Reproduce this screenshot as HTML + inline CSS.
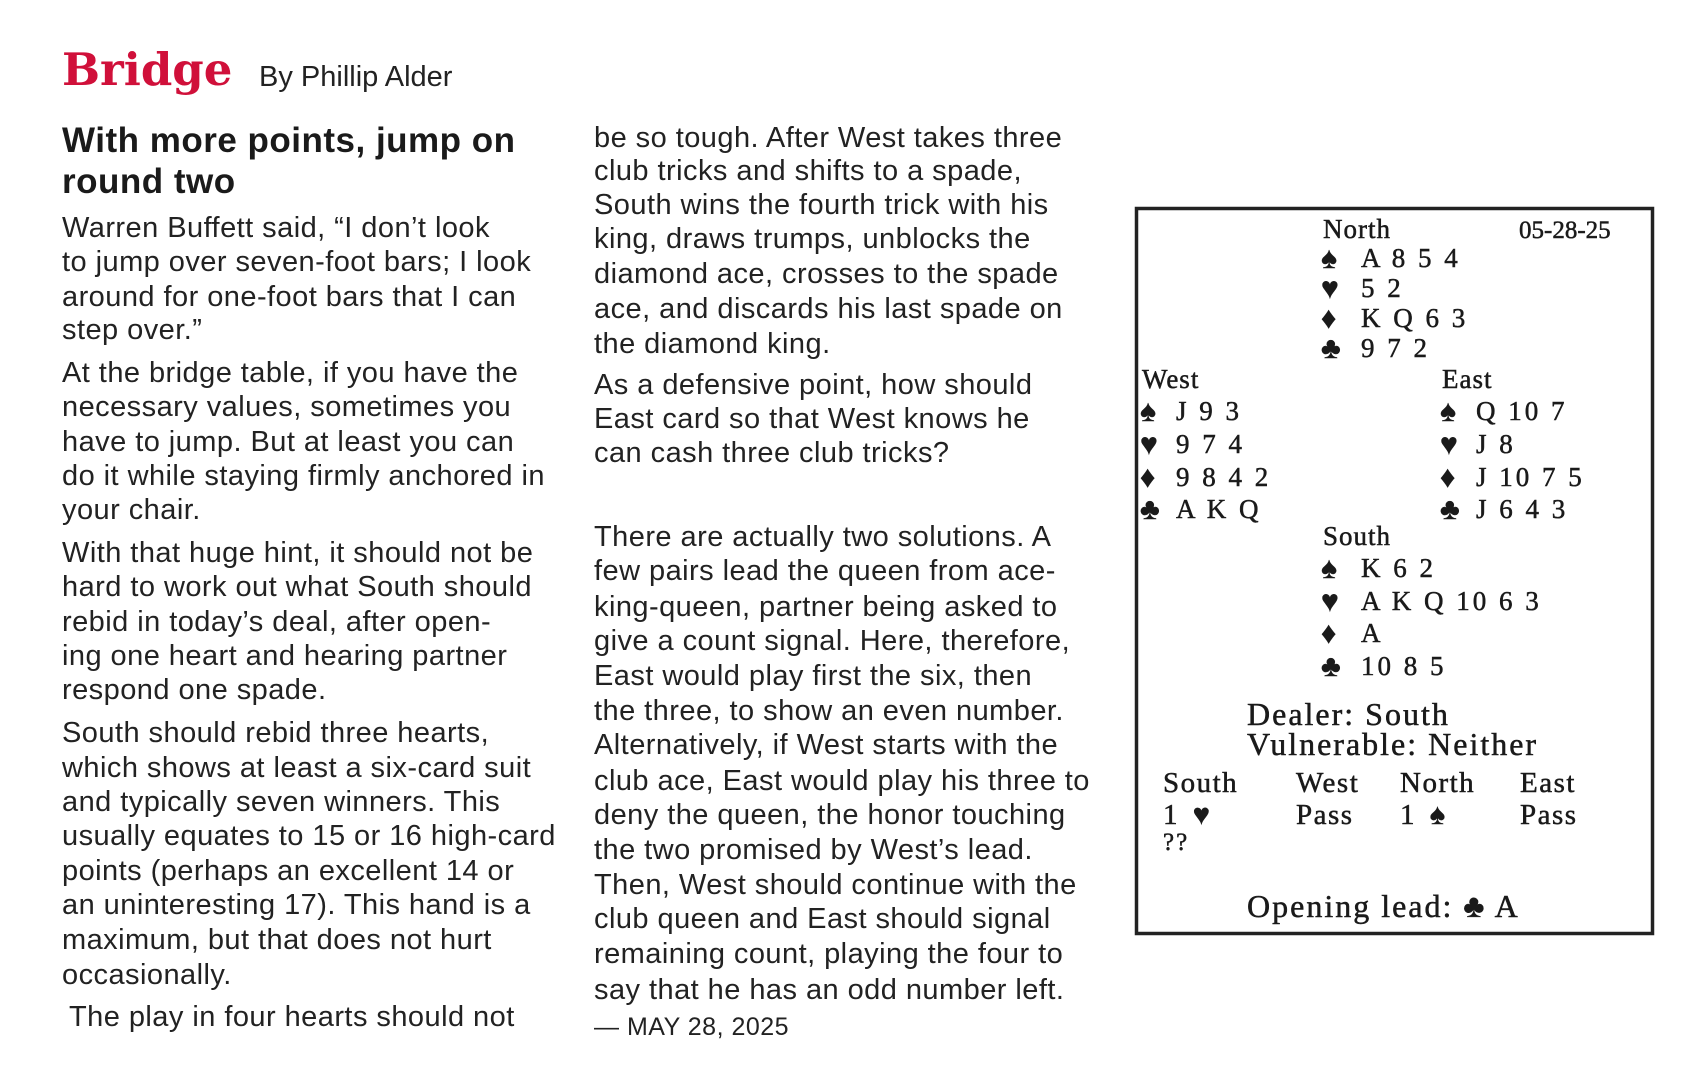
<!DOCTYPE html>
<html><head><meta charset="utf-8"><style>
html,body{margin:0;padding:0;background:#fff;}
svg{display:block}
.b{font-family:"Liberation Sans",sans-serif;font-size:29px;fill:#222;letter-spacing:0.45px}
.c{font-family:"Liberation Serif","DejaVu Serif",serif;font-size:27px;fill:#1a1a1a;letter-spacing:3px;stroke:#1a1a1a;stroke-width:0.5}
.d{font-family:"Liberation Serif","DejaVu Serif",serif;font-size:32px;fill:#1a1a1a;letter-spacing:2px;stroke:#1a1a1a;stroke-width:0.5}
.s{font-size:30px}
</style></head><body>
<svg width="1684" height="1091" xmlns="http://www.w3.org/2000/svg" xml:space="preserve">
<text x="62" y="85" font-family="DejaVu Serif,serif" font-weight="bold" font-size="45" fill="#d0103a">Bridge</text>
<text x="259" y="86" font-family="Liberation Sans,sans-serif" font-size="29" fill="#222">By Phillip Alder</text>
<g font-family="Liberation Sans,sans-serif" font-weight="bold" font-size="35" fill="#1a1a1a" letter-spacing="0.5">
<text x="62" y="152">With more points, jump on</text>
<text x="62" y="193">round two</text>
</g>
<g>
<text class="b" x="62" y="237">Warren Buffett said, “I don’t look</text>
<text class="b" x="62" y="271">to jump over seven-foot bars; I look</text>
<text class="b" x="62" y="306">around for one-foot bars that I can</text>
<text class="b" x="62" y="339">step over.”</text>
<text class="b" x="62" y="382">At the bridge table, if you have the</text>
<text class="b" x="62" y="416">necessary values, sometimes you</text>
<text class="b" x="62" y="451">have to jump. But at least you can</text>
<text class="b" x="62" y="485">do it while staying firmly anchored in</text>
<text class="b" x="62" y="519">your chair.</text>
<text class="b" x="62" y="562">With that huge hint, it should not be</text>
<text class="b" x="62" y="596">hard to work out what South should</text>
<text class="b" x="62" y="631">rebid in today’s deal, after open-</text>
<text class="b" x="62" y="665">ing one heart and hearing partner</text>
<text class="b" x="62" y="699">respond one spade.</text>
<text class="b" x="62" y="742">South should rebid three hearts,</text>
<text class="b" x="62" y="777">which shows at least a six-card suit</text>
<text class="b" x="62" y="811">and typically seven winners. This</text>
<text class="b" x="62" y="845">usually equates to 15 or 16 high-card</text>
<text class="b" x="62" y="880">points (perhaps an excellent 14 or</text>
<text class="b" x="62" y="914">an uninteresting 17). This hand is a</text>
<text class="b" x="62" y="949">maximum, but that does not hurt</text>
<text class="b" x="62" y="984">occasionally.</text>
<text class="b" x="69" y="1026">The play in four hearts should not</text>

<text class="b" x="594" y="147">be so tough. After West takes three</text>
<text class="b" x="594" y="180">club tricks and shifts to a spade,</text>
<text class="b" x="594" y="214">South wins the fourth trick with his</text>
<text class="b" x="594" y="248">king, draws trumps, unblocks the</text>
<text class="b" x="594" y="283">diamond ace, crosses to the spade</text>
<text class="b" x="594" y="318">ace, and discards his last spade on</text>
<text class="b" x="594" y="353">the diamond king.</text>
<text class="b" x="594" y="394">As a defensive point, how should</text>
<text class="b" x="594" y="428">East card so that West knows he</text>
<text class="b" x="594" y="462">can cash three club tricks?</text>
<text class="b" x="594" y="546">There are actually two solutions. A</text>
<text class="b" x="594" y="580">few pairs lead the queen from ace-</text>
<text class="b" x="594" y="616">king-queen, partner being asked to</text>
<text class="b" x="594" y="650">give a count signal. Here, therefore,</text>
<text class="b" x="594" y="685">East would play first the six, then</text>
<text class="b" x="594" y="720">the three, to show an even number.</text>
<text class="b" x="594" y="754">Alternatively, if West starts with the</text>
<text class="b" x="594" y="790">club ace, East would play his three to</text>
<text class="b" x="594" y="824">deny the queen, the honor touching</text>
<text class="b" x="594" y="859">the two promised by West’s lead.</text>
<text class="b" x="594" y="894">Then, West should continue with the</text>
<text class="b" x="594" y="928">club queen and East should signal</text>
<text class="b" x="594" y="963">remaining count, playing the four to</text>
<text class="b" x="594" y="999">say that he has an odd number left.</text>
<text x="594" y="1035" font-family="Liberation Sans,sans-serif" font-size="25" fill="#222" letter-spacing="0.5">— MAY 28, 2025</text>
</g>

<rect x="1136.5" y="208.5" width="516" height="725" fill="none" stroke="#222" stroke-width="3.5"/>
<g>
<text class="c" x="1323" y="238" style="letter-spacing:1px">North</text>
<text class="c" x="1519" y="238" style="font-size:25px;letter-spacing:0">05-28-25</text>
<text class="c s" x="1321" y="268">♠</text><text class="c" x="1361" y="267">A 8 5 4</text>
<text class="c s" x="1321" y="298">♥</text><text class="c" x="1361" y="297">5 2</text>
<text class="c s" x="1321" y="328">♦</text><text class="c" x="1361" y="327">K Q 6 3</text>
<text class="c s" x="1321" y="358">♣</text><text class="c" x="1361" y="357">9 7 2</text>

<text class="c" x="1142" y="388" style="letter-spacing:1px">West</text>
<text class="c s" x="1140" y="421">♠</text><text class="c" x="1176" y="420">J 9 3</text>
<text class="c s" x="1140" y="454">♥</text><text class="c" x="1176" y="453">9 7 4</text>
<text class="c s" x="1140" y="487">♦</text><text class="c" x="1176" y="486">9 8 4 2</text>
<text class="c s" x="1140" y="519">♣</text><text class="c" x="1176" y="518">A K Q</text>

<text class="c" x="1442" y="388" style="letter-spacing:1px">East</text>
<text class="c s" x="1440" y="421">♠</text><text class="c" x="1476" y="420">Q 10 7</text>
<text class="c s" x="1440" y="454">♥</text><text class="c" x="1476" y="453">J 8</text>
<text class="c s" x="1440" y="487">♦</text><text class="c" x="1476" y="486">J 10 7 5</text>
<text class="c s" x="1440" y="519">♣</text><text class="c" x="1476" y="518">J 6 4 3</text>

<text class="c" x="1323" y="545" style="letter-spacing:1px">South</text>
<text class="c s" x="1321" y="578">♠</text><text class="c" x="1361" y="577">K 6 2</text>
<text class="c s" x="1321" y="611">♥</text><text class="c" x="1361" y="610">A K Q 10 6 3</text>
<text class="c s" x="1321" y="643">♦</text><text class="c" x="1361" y="642">A</text>
<text class="c s" x="1321" y="676">♣</text><text class="c" x="1361" y="675">10 8 5</text>
</g>
<text class="d" x="1247" y="725">Dealer: South</text>
<text class="d" x="1247" y="755">Vulnerable: Neither</text>
<g>
<text class="c" style="font-size:29px;letter-spacing:1.5px" x="1163" y="792">South</text>
<text class="c" style="font-size:29px;letter-spacing:1.5px" x="1296" y="792">West</text>
<text class="c" style="font-size:29px;letter-spacing:1.5px" x="1400" y="792">North</text>
<text class="c" style="font-size:29px;letter-spacing:1.5px" x="1520" y="792">East</text>
<text class="c" style="font-size:29px;letter-spacing:4px" x="1163" y="824">1 ♥</text>
<text class="c" style="font-size:29px;letter-spacing:1.5px" x="1296" y="824">Pass</text>
<text class="c" style="font-size:29px;letter-spacing:4px" x="1400" y="824">1 ♠</text>
<text class="c" style="font-size:29px;letter-spacing:1.5px" x="1520" y="824">Pass</text>
<text class="c" style="font-size:25px;letter-spacing:2px" x="1163" y="850">??</text>
</g>
<text class="d" x="1247" y="917">Opening lead: ♣ A</text>
</svg>
</body></html>
